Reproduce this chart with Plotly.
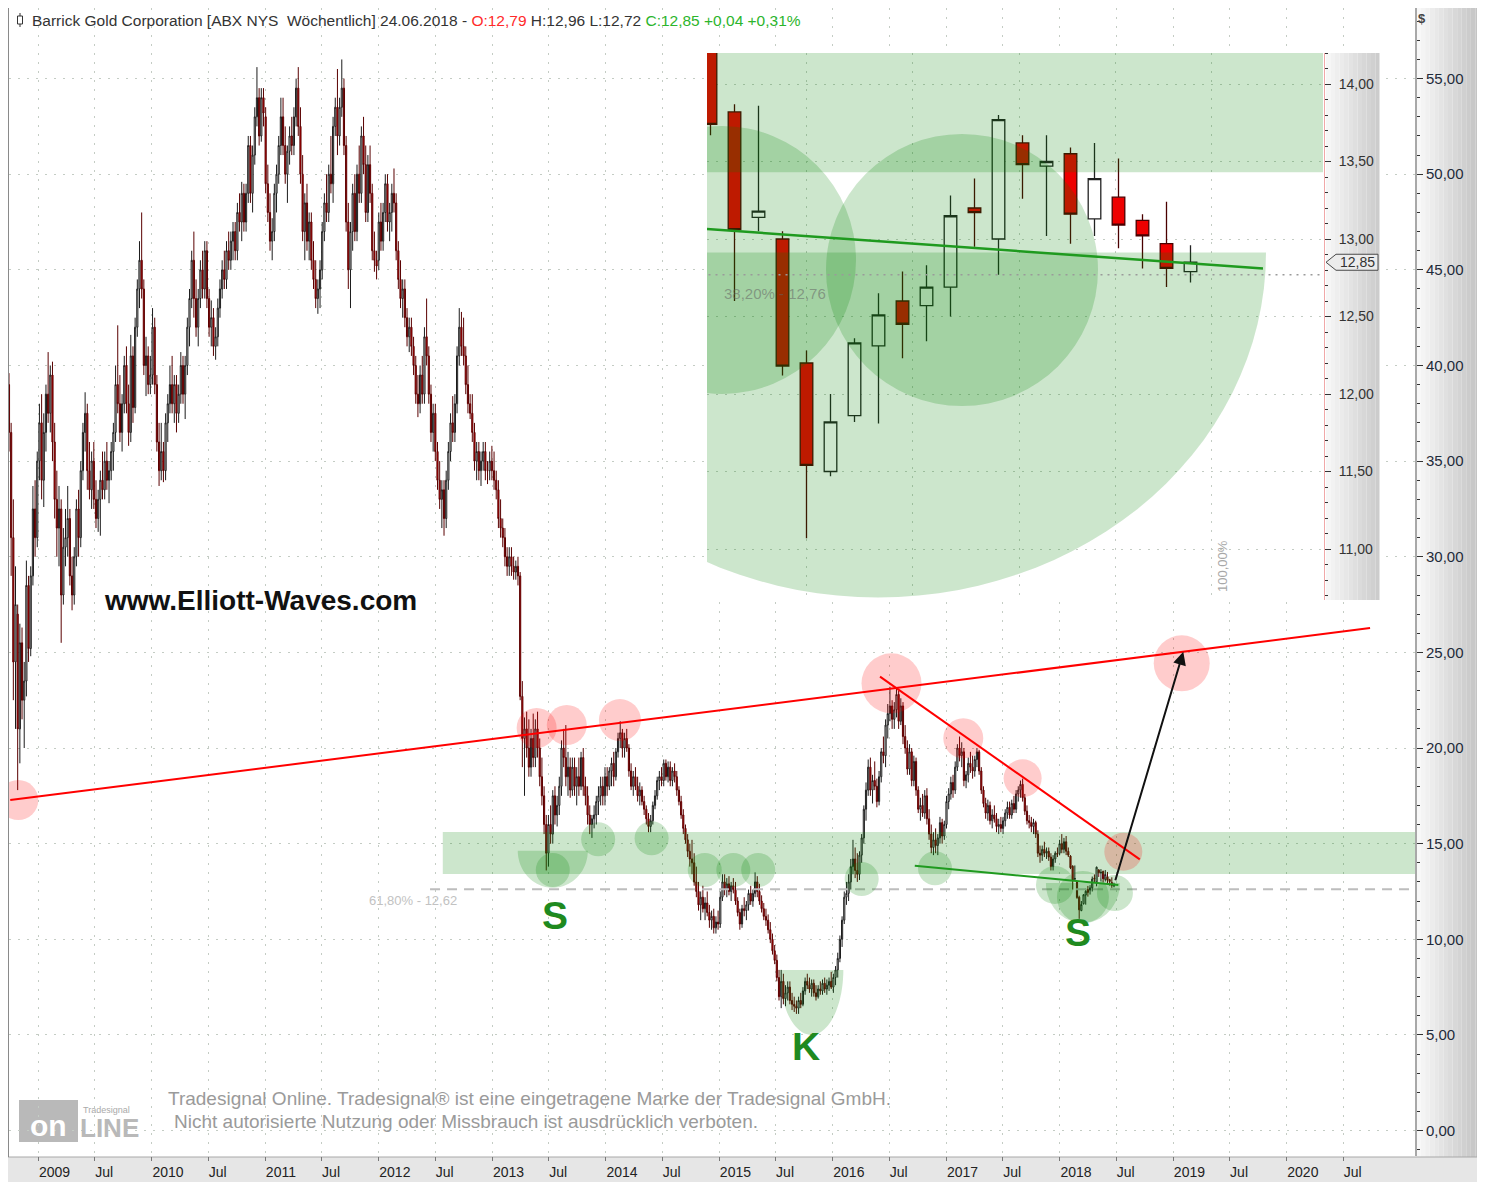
import numpy as np
import pandas as pd
import plotly.graph_objects as go

FONT = "Liberation Sans, Arial, sans-serif"
# the page puts the figure at (8, 8); all positions below are page pixels
OFF = 8
W, H = 1485 - OFF, 1182 - OFF
PL, PR, PT, PB = 9, 1415, 8, 1156          # plot area in page pixels
PW, PH = PR - PL, PB - PT


def px(x):
    return (x - PL) / PW


def py(y):
    return (PB - y) / PH


# ---------------- weekly OHLC (open, high, low, close) ----------------
START_WEEK = "2008-09-28"

w2008 = [
    (39.0, 39.6, 35.5, 36.5), (36.5, 37.0, 29.0, 31.0), (31.0, 33.0, 22.5, 24.5), (24.5, 29.5, 21.0, 27.5),
    (27.0, 27.5, 17.8, 21.0), (21.0, 26.5, 19.2, 25.5), (25.5, 26.3, 21.5, 22.5), (22.5, 24.5, 20.0, 23.5),
    (23.5, 29.8, 22.7, 28.5), (28.5, 29.0, 24.5, 25.2), (25.2, 29.5, 24.8, 29.0), (29.0, 33.7, 28.5, 32.5),
    (32.5, 34.0, 30.0, 31.0), (31.0, 35.5, 30.5, 35.0)]

w2009 = [
    (35.0, 38.0, 34.0, 37.0), (37.0, 38.5, 33.0, 34.0), (34.0, 37.5, 32.6, 36.5), (36.5, 39.0, 35.5, 38.5),
    (38.5, 40.7, 37.0, 37.5), (37.5, 40.0, 36.5, 39.5), (39.5, 40.2, 35.0, 36.0), (36.0, 37.0, 32.0, 33.0),
    (33.0, 34.5, 30.0, 31.5), (31.5, 33.7, 29.5, 32.5), (32.5, 33.0, 25.5, 28.0), (28.0, 31.5, 27.5, 30.5),
    (30.5, 32.5, 29.5, 31.0), (31.0, 33.7, 30.0, 32.0), (32.0, 32.5, 28.5, 29.0), (29.0, 30.0, 27.2, 28.0),
    (28.0, 30.5, 27.5, 30.0), (30.0, 33.0, 29.5, 32.5), (32.5, 33.5, 30.0, 31.0), (31.0, 35.0, 30.5, 34.5),
    (34.5, 37.0, 34.0, 36.5), (36.5, 38.6, 35.5, 37.5), (37.5, 38.0, 33.5, 34.5), (34.5, 36.0, 33.0, 33.5),
    (33.5, 35.5, 32.5, 35.0), (35.0, 36.0, 32.5, 33.0), (33.0, 34.0, 31.5, 32.0), (32.0, 33.5, 31.3, 33.0),
    (33.0, 34.5, 31.1, 34.0), (34.0, 35.5, 33.0, 33.5), (33.5, 35.5, 33.0, 35.0), (35.0, 36.0, 33.5, 34.0),
    (34.0, 35.0, 32.8, 34.5), (34.5, 36.0, 34.0, 35.5), (35.5, 37.0, 34.5, 36.5), (36.5, 40.0, 36.0, 39.0),
    (39.0, 42.1, 37.5, 38.0), (38.0, 39.5, 36.0, 36.5), (36.5, 38.5, 35.5, 38.0), (38.0, 40.5, 37.5, 40.0),
    (40.0, 41.0, 37.5, 38.0), (38.0, 39.0, 35.8, 36.5), (36.5, 41.6, 36.0, 40.5), (40.5, 41.0, 37.0, 37.8),
    (37.8, 42.5, 37.5, 42.0), (42.0, 44.5, 41.5, 44.0), (44.0, 46.5, 43.0, 45.5), (45.5, 48.0, 43.5, 44.0),
    (44.0, 44.5, 39.5, 40.0), (40.0, 41.5, 38.4, 40.5), (40.5, 41.0, 38.5, 39.0), (39.0, 40.5, 38.5, 39.5)]

w2010 = [
    (39.5, 43.0, 39.0, 42.0), (42.0, 42.5, 38.5, 39.0), (39.0, 39.5, 35.5, 36.0), (36.0, 37.0, 33.7, 34.5),
    (34.5, 37.0, 34.0, 35.5), (35.5, 36.0, 33.9, 34.5), (34.5, 37.5, 34.0, 37.0), (37.0, 38.5, 36.0, 38.0),
    (38.0, 40.0, 37.5, 39.0), (39.0, 40.5, 37.5, 38.0), (38.0, 39.5, 37.0, 39.0), (39.0, 39.5, 36.5, 37.5),
    (37.5, 39.0, 37.0, 38.5), (38.5, 40.7, 38.0, 40.0), (40.0, 40.5, 38.0, 38.5), (38.5, 40.5, 37.2, 40.0),
    (40.0, 42.5, 39.5, 42.0), (42.0, 44.0, 41.0, 43.5), (43.5, 46.0, 43.0, 45.5), (45.5, 47.0, 42.5, 43.5),
    (43.5, 44.5, 41.5, 42.0), (42.0, 44.0, 41.0, 43.5), (43.5, 45.5, 43.0, 45.0), (45.0, 46.0, 43.5, 44.0),
    (44.0, 46.5, 43.5, 46.0), (46.0, 46.5, 43.0, 43.5), (43.5, 44.0, 41.5, 42.0), (42.0, 43.4, 41.0, 42.5),
    (42.5, 43.0, 40.5, 41.0), (41.0, 42.0, 40.3, 41.5), (41.5, 43.5, 41.0, 43.0), (43.0, 44.5, 42.5, 44.0),
    (44.0, 45.5, 43.5, 45.0), (45.0, 46.0, 44.0, 44.5), (44.5, 46.5, 44.0, 46.0), (46.0, 47.0, 45.0, 45.5),
    (45.5, 47.0, 45.0, 46.5), (46.5, 47.5, 45.5, 47.0), (47.0, 47.5, 45.5, 46.0), (46.0, 48.5, 45.5, 48.0),
    (48.0, 49.0, 47.0, 47.5), (47.5, 49.6, 46.5, 49.0), (49.0, 49.5, 47.0, 47.5), (47.5, 49.5, 47.0, 49.0),
    (49.0, 52.0, 48.5, 51.5), (51.5, 52.0, 48.5, 49.0), (49.0, 51.5, 48.0, 51.0), (51.0, 53.5, 50.5, 53.0),
    (53.0, 55.6, 52.5, 54.0), (54.0, 54.5, 51.5, 52.0), (52.0, 54.5, 51.7, 54.0), (54.0, 54.5, 52.5, 53.2)]

w2011 = [
    (53.0, 53.5, 49.0, 49.5), (49.5, 50.5, 47.5, 48.0), (48.0, 49.0, 46.0, 46.5), (46.5, 47.7, 45.5, 47.0),
    (47.0, 49.5, 46.5, 49.0), (49.0, 50.5, 48.0, 50.0), (50.0, 52.0, 49.5, 51.5), (51.5, 54.0, 51.0, 53.0),
    (53.0, 54.0, 51.0, 51.5), (51.5, 52.5, 49.5, 50.0), (50.0, 51.5, 48.5, 51.2), (51.2, 52.5, 50.5, 52.0),
    (52.0, 53.0, 51.0, 51.5), (51.5, 53.5, 51.0, 53.0), (53.0, 55.0, 52.5, 54.5), (54.5, 55.6, 52.0, 52.5),
    (52.5, 53.5, 49.5, 50.0), (50.0, 51.0, 46.5, 47.0), (47.0, 49.0, 45.5, 48.5), (48.5, 49.5, 46.0, 46.5),
    (46.5, 48.0, 45.5, 47.5), (47.5, 48.0, 45.0, 45.5), (45.5, 46.5, 44.0, 44.5), (44.5, 45.5, 43.0, 43.5),
    (43.5, 44.5, 42.7, 44.0), (44.0, 45.5, 43.0, 45.0), (45.0, 47.5, 44.5, 47.0), (47.0, 49.0, 46.5, 48.5),
    (48.5, 50.0, 47.5, 48.0), (48.0, 50.5, 47.5, 50.0), (50.0, 52.0, 49.0, 49.5), (49.5, 53.0, 48.5, 52.5),
    (52.5, 54.0, 52.0, 53.5), (53.5, 55.5, 51.0, 52.0), (52.0, 54.0, 51.5, 53.5), (53.5, 56.0, 53.0, 54.5),
    (54.5, 55.0, 51.0, 51.5), (51.5, 52.0, 47.0, 47.5), (47.5, 48.5, 44.0, 45.0), (45.0, 47.5, 43.0, 47.0),
    (47.0, 49.5, 46.0, 49.0), (49.0, 50.0, 46.5, 47.0), (47.0, 50.5, 46.5, 50.0), (50.0, 51.5, 48.5, 49.0),
    (49.0, 52.5, 48.5, 52.0), (52.0, 53.0, 50.0, 50.5), (50.5, 51.5, 47.5, 48.0), (48.0, 51.0, 47.5, 50.5),
    (50.5, 51.5, 48.5, 49.0), (49.0, 49.5, 45.5, 46.0), (46.0, 47.0, 44.9, 45.5), (45.5, 46.0, 44.5, 45.2)]

w2012 = [
    (45.5, 48.0, 45.0, 47.5), (47.5, 48.5, 46.0, 46.5), (46.5, 48.5, 46.0, 48.0), (48.0, 50.0, 47.5, 49.5),
    (49.5, 50.0, 47.0, 47.5), (47.5, 48.5, 46.5, 48.0), (48.0, 49.5, 47.0, 49.0), (49.0, 50.3, 48.0, 48.5),
    (48.5, 49.0, 45.5, 46.0), (46.0, 46.5, 44.0, 44.5), (44.5, 45.5, 43.0, 43.5), (43.5, 44.5, 42.5, 44.0),
    (44.0, 44.5, 42.0, 42.5), (42.5, 43.0, 41.0, 41.5), (41.5, 42.5, 40.7, 42.0), (42.0, 42.5, 40.5, 41.0),
    (41.0, 41.5, 39.5, 40.0), (40.0, 40.5, 38.0, 38.5), (38.5, 39.5, 37.3, 38.0), (38.0, 40.0, 37.5, 39.5),
    (39.5, 40.5, 38.0, 38.5), (38.5, 42.0, 38.0, 41.5), (41.5, 43.5, 40.0, 40.5), (40.5, 41.0, 38.0, 38.5),
    (38.5, 39.0, 36.0, 36.5), (36.5, 38.0, 35.5, 37.5), (37.5, 38.0, 35.0, 35.5), (35.5, 36.0, 33.5, 34.0),
    (34.0, 35.0, 32.5, 33.0), (33.0, 34.0, 31.5, 33.5), (33.5, 34.0, 31.1, 32.0), (32.0, 34.5, 31.5, 34.0),
    (34.0, 36.0, 33.5, 35.5), (35.5, 37.5, 35.0, 37.0), (37.0, 38.4, 36.0, 36.5), (36.5, 38.5, 36.0, 38.0),
    (38.0, 41.0, 37.5, 40.5), (40.5, 43.0, 40.0, 42.0), (42.0, 42.8, 40.5, 41.0), (41.0, 42.5, 40.0, 40.5),
    (40.5, 41.0, 38.5, 39.0), (39.0, 40.0, 37.5, 38.0), (38.0, 38.5, 37.2, 37.5), (37.5, 38.5, 36.0, 36.5),
    (36.5, 37.0, 34.5, 35.0), (35.0, 36.0, 34.0, 35.5), (35.5, 36.0, 34.0, 34.5), (34.5, 35.5, 33.7, 35.0),
    (35.0, 36.0, 34.5, 35.5), (35.5, 36.0, 34.0, 34.5), (34.5, 35.0, 33.8, 34.5), (34.5, 35.5, 34.0, 35.0),
    (35.0, 35.8, 34.0, 34.5)]

w2013 = [
    (34.5, 35.5, 33.5, 34.0), (34.0, 34.5, 33.0, 33.5), (33.5, 34.0, 31.5, 32.0), (32.0, 33.0, 31.0, 31.5),
    (31.5, 32.0, 30.5, 31.0), (31.0, 31.5, 29.5, 30.0), (30.0, 30.5, 29.0, 29.5), (29.5, 30.5, 29.0, 30.0),
    (30.0, 30.5, 29.0, 29.5), (29.5, 30.0, 28.8, 29.2), (29.2, 29.8, 28.8, 29.5), (29.5, 30.0, 28.5, 29.0),
    (29.0, 29.2, 22.5, 22.7), (22.7, 23.5, 19.0, 20.5), (20.5, 21.6, 17.5, 21.0), (21.0, 21.9, 19.5, 20.0),
    (20.0, 21.5, 18.5, 19.0), (19.0, 21.0, 18.5, 20.5), (20.5, 21.8, 19.0, 19.5), (19.5, 21.5, 19.0, 21.0),
    (21.0, 21.9, 19.5, 20.0), (20.0, 20.5, 18.0, 18.5), (18.5, 19.5, 17.0, 17.5), (17.5, 18.0, 15.5, 16.0),
    (16.0, 16.5, 13.6, 14.5), (14.5, 16.5, 13.8, 16.0), (16.0, 17.0, 15.0, 15.5), (15.5, 17.8, 15.0, 17.5),
    (17.5, 18.0, 16.0, 16.5), (16.5, 17.5, 15.9, 17.0), (17.0, 18.5, 16.5, 18.0), (18.0, 20.4, 17.5, 20.0),
    (20.0, 21.0, 19.0, 19.5), (19.5, 21.2, 18.0, 18.5), (18.5, 19.8, 17.5, 19.0), (19.0, 19.5, 17.4, 17.8),
    (17.8, 19.5, 17.5, 19.0), (19.0, 19.5, 17.5, 18.0), (18.0, 19.0, 17.0, 18.5), (18.5, 19.5, 17.5, 18.0),
    (18.0, 19.8, 17.8, 19.5), (19.5, 20.0, 17.5, 18.0), (18.0, 18.5, 17.0, 17.5), (17.5, 18.0, 16.0, 16.5),
    (16.5, 17.0, 15.5, 16.0), (16.0, 16.5, 15.3, 16.3), (16.3, 17.0, 15.8, 16.5), (16.5, 17.5, 16.0, 17.2),
    (17.2, 18.0, 16.5, 17.5), (17.5, 18.5, 17.0, 18.0), (18.0, 18.5, 17.0, 17.5), (17.5, 19.0, 17.0, 18.5)]

w2014 = [
    (18.5, 19.0, 17.5, 18.0), (18.0, 19.0, 17.8, 18.8), (18.8, 19.5, 18.0, 19.2), (19.2, 19.8, 18.0, 18.5),
    (18.5, 20.0, 18.3, 19.8), (19.8, 20.8, 19.5, 20.5), (20.5, 21.4, 20.0, 20.8), (20.8, 21.0, 19.5, 20.0),
    (20.0, 20.8, 19.5, 20.5), (20.5, 21.0, 19.8, 20.0), (20.0, 20.2, 18.5, 18.8), (18.8, 19.2, 17.8, 18.0),
    (18.0, 18.8, 17.5, 18.5), (18.5, 19.0, 17.8, 18.0), (18.0, 18.5, 17.2, 17.5), (17.5, 18.2, 17.0, 17.8),
    (17.8, 18.0, 17.0, 17.2), (17.2, 17.5, 16.5, 16.8), (16.8, 17.0, 16.0, 16.3), (16.3, 16.6, 15.6, 15.9),
    (15.9, 16.5, 15.6, 16.2), (16.2, 17.2, 16.0, 17.0), (17.0, 17.8, 16.8, 17.5), (17.5, 18.5, 17.3, 18.3),
    (18.3, 18.8, 17.8, 18.5), (18.5, 19.0, 18.0, 18.3), (18.3, 19.4, 18.0, 19.2), (19.2, 19.4, 18.3, 18.5),
    (18.5, 19.3, 18.2, 19.0), (19.0, 19.3, 18.0, 18.3), (18.3, 19.0, 18.0, 18.8), (18.8, 19.2, 18.2, 18.5),
    (18.5, 18.8, 17.5, 17.8), (17.8, 18.0, 17.0, 17.2), (17.2, 17.5, 16.3, 16.5), (16.5, 16.8, 15.5, 15.8),
    (15.8, 16.0, 15.0, 15.2), (15.2, 15.5, 14.3, 14.6), (14.6, 15.0, 13.8, 14.2), (14.2, 15.2, 13.4, 14.0),
    (14.0, 14.5, 12.8, 13.0), (13.0, 13.8, 12.2, 12.5), (12.5, 13.0, 11.5, 11.8), (11.8, 12.5, 11.0, 12.2),
    (12.2, 12.8, 11.4, 11.6), (11.6, 12.2, 11.0, 11.9), (11.9, 12.5, 11.2, 11.4), (11.4, 11.8, 10.6, 11.0),
    (11.0, 11.5, 10.5, 11.2), (11.2, 11.6, 10.3, 10.6), (10.6, 11.2, 10.3, 10.9), (10.9, 11.5, 10.5, 10.8)]

w2015 = [
    (10.8, 12.5, 10.6, 12.2), (12.2, 13.4, 12.0, 13.0), (13.0, 13.4, 12.3, 12.6), (12.6, 13.2, 12.2, 12.9),
    (12.9, 13.3, 12.3, 12.5), (12.5, 13.0, 12.0, 12.8), (12.8, 13.2, 12.4, 12.6), (12.6, 13.0, 11.8, 12.0),
    (12.0, 12.2, 11.2, 11.4), (11.4, 11.6, 10.5, 10.8), (10.8, 11.8, 10.6, 11.6), (11.6, 12.2, 11.2, 11.5),
    (11.5, 12.0, 11.0, 11.8), (11.8, 12.6, 11.5, 12.4), (12.4, 12.8, 11.8, 12.0), (12.0, 12.6, 11.7, 12.4),
    (12.4, 13.5, 12.2, 13.0), (13.0, 13.3, 12.2, 12.5), (12.5, 12.9, 11.8, 12.0), (12.0, 12.3, 11.4, 11.6),
    (11.6, 11.9, 11.0, 11.2), (11.2, 11.6, 10.7, 11.0), (11.0, 11.3, 10.3, 10.5), (10.5, 10.9, 9.8, 10.0),
    (10.0, 10.3, 9.2, 9.4), (9.4, 9.7, 8.7, 8.9), (8.9, 9.2, 7.8, 8.0), (8.0, 8.4, 6.8, 7.0),
    (7.0, 8.4, 6.4, 7.8), (7.8, 8.2, 6.6, 6.9), (6.9, 7.6, 6.5, 7.2), (7.2, 7.8, 6.8, 7.5),
    (7.5, 7.8, 6.6, 6.8), (6.8, 7.2, 6.3, 6.6), (6.6, 7.0, 6.2, 6.5), (6.5, 6.8, 6.1, 6.4),
    (6.4, 7.0, 6.1, 6.8), (6.8, 7.2, 6.4, 6.6), (6.6, 7.5, 6.5, 7.3), (7.3, 8.0, 7.1, 7.8),
    (7.8, 8.2, 7.4, 7.6), (7.6, 8.0, 7.2, 7.4), (7.4, 7.9, 7.0, 7.7), (7.7, 7.9, 7.0, 7.2),
    (7.2, 7.6, 6.8, 7.0), (7.0, 7.6, 6.9, 7.4), (7.4, 7.8, 7.1, 7.3), (7.3, 7.9, 7.1, 7.7),
    (7.7, 8.0, 7.2, 7.4), (7.4, 7.9, 7.1, 7.6), (7.6, 8.0, 7.3, 7.8), (7.8, 8.3, 7.4, 7.5)]

w2016 = [
    (7.5, 8.2, 7.2, 8.0), (8.0, 8.6, 7.6, 8.4), (8.4, 9.3, 8.0, 9.0), (9.0, 10.2, 8.8, 10.0),
    (10.0, 11.2, 9.6, 11.0), (11.0, 12.5, 10.8, 12.2), (12.2, 13.0, 11.8, 12.4), (12.4, 13.4, 12.0, 13.0),
    (13.0, 14.2, 12.6, 13.8), (13.8, 15.2, 13.4, 14.2), (14.2, 14.8, 13.2, 13.6), (13.6, 14.5, 13.0, 13.4),
    (13.4, 14.6, 13.1, 14.4), (14.4, 15.5, 14.0, 15.3), (15.3, 17.0, 15.0, 16.8), (16.8, 18.2, 16.2, 17.8),
    (17.8, 19.4, 17.5, 19.0), (19.0, 19.5, 17.5, 17.8), (17.8, 18.6, 17.1, 18.3), (18.3, 19.3, 17.8, 18.0),
    (18.0, 18.4, 16.9, 17.2), (17.2, 18.8, 17.0, 18.5), (18.5, 20.0, 18.2, 19.8), (19.8, 20.6, 19.2, 19.6),
    (19.6, 21.5, 19.0, 21.2), (21.2, 22.3, 20.5, 21.8), (21.8, 23.2, 21.4, 22.2), (22.2, 22.5, 21.0, 21.5),
    (21.5, 22.4, 21.0, 22.0), (22.0, 23.1, 21.6, 22.8), (22.8, 23.0, 21.0, 21.4), (21.4, 22.6, 21.2, 22.2),
    (22.2, 22.4, 20.2, 20.6), (20.6, 21.2, 19.7, 20.0), (20.0, 20.4, 18.6, 18.9), (18.9, 20.2, 18.6, 19.8),
    (19.8, 20.0, 18.0, 18.3), (18.3, 19.6, 18.0, 19.3), (19.3, 19.5, 17.5, 17.8), (17.8, 18.0, 16.6, 16.8),
    (16.8, 17.4, 16.2, 17.0), (17.0, 17.6, 16.4, 16.6), (16.6, 17.8, 16.3, 17.5), (17.5, 17.9, 16.0, 16.3),
    (16.3, 16.8, 15.2, 15.5), (15.5, 16.0, 14.5, 14.8), (14.8, 15.6, 14.4, 15.2), (15.2, 15.8, 14.5, 14.9),
    (14.9, 15.5, 14.4, 15.3), (15.3, 16.4, 15.0, 16.1), (16.1, 16.3, 15.0, 15.4), (15.4, 16.2, 15.2, 16.0)]

w2017 = [
    (16.0, 17.5, 15.8, 17.2), (17.2, 17.9, 16.8, 17.6), (17.6, 18.5, 17.3, 18.2), (18.2, 18.6, 17.4, 17.8),
    (17.8, 19.3, 17.6, 19.0), (19.0, 20.2, 18.8, 20.0), (20.0, 20.6, 19.3, 19.6), (19.6, 20.3, 19.0, 19.8),
    (19.8, 20.0, 18.0, 18.3), (18.3, 18.8, 17.9, 18.6), (18.6, 19.5, 18.2, 19.2), (19.2, 19.8, 18.7, 19.0),
    (19.0, 19.6, 18.4, 18.8), (18.8, 19.6, 18.5, 19.4), (19.4, 20.0, 19.0, 19.8), (19.8, 19.9, 18.6, 18.8),
    (18.8, 19.0, 17.6, 17.8), (17.8, 18.0, 16.9, 17.1), (17.1, 17.4, 16.3, 16.6), (16.6, 17.3, 16.2, 17.0),
    (17.0, 17.2, 16.0, 16.2), (16.2, 16.8, 15.8, 16.5), (16.5, 17.0, 16.1, 16.3), (16.3, 16.6, 15.6, 15.9),
    (15.9, 16.3, 15.5, 16.0), (16.0, 16.4, 15.6, 15.8), (15.8, 16.4, 15.5, 16.2), (16.2, 16.8, 15.9, 16.6),
    (16.6, 17.2, 16.3, 16.9), (16.9, 17.2, 16.3, 16.5), (16.5, 17.3, 16.3, 17.1), (17.1, 17.5, 16.6, 16.8),
    (16.8, 17.8, 16.6, 17.6), (17.6, 18.0, 17.2, 17.8), (17.8, 18.3, 17.4, 18.1), (18.1, 18.4, 17.2, 17.4),
    (17.4, 17.6, 16.5, 16.7), (16.7, 17.0, 16.0, 16.2), (16.2, 16.5, 15.8, 16.1), (16.1, 16.4, 15.6, 15.9),
    (15.9, 16.3, 15.5, 16.1), (16.1, 16.2, 15.3, 15.5), (15.5, 15.7, 14.3, 14.5), (14.5, 14.9, 14.0, 14.4),
    (14.4, 14.9, 14.1, 14.7), (14.7, 15.1, 14.3, 14.5), (14.5, 14.8, 14.2, 14.6), (14.6, 14.8, 14.1, 14.3),
    (14.3, 14.5, 13.6, 13.8), (13.8, 14.4, 13.6, 14.2), (14.2, 14.6, 14.0, 14.5), (14.5, 14.8, 14.3, 14.45),
    (14.5, 15.2, 14.4, 15.0)]

w2018_jan = [
    (15.0, 15.5, 14.5, 14.7), (14.7, 15.3, 14.5, 15.1), (15.1, 15.4, 14.4, 14.6), (14.6, 14.8, 14.3, 14.4)]

# last 21 weeks (also shown enlarged in the inset), 04.02.2018 - 24.06.2018
ins_open = [14.35, 13.82, 13.14, 13.00, 12.20, 11.50, 11.86, 12.31, 12.60, 12.57, 12.69,
            13.20, 13.00, 13.62, 13.47, 13.55, 13.13, 13.27, 13.12, 12.97, 12.79]
ins_high = [14.40, 13.87, 13.86, 13.05, 12.28, 12.00, 12.36, 12.65, 12.79, 12.83, 13.28,
            13.39, 13.80, 13.67, 13.67, 13.59, 13.62, 13.52, 13.16, 13.24, 12.96]
ins_low = [13.67, 12.60, 13.05, 12.12, 11.07, 11.47, 11.82, 11.81, 12.23, 12.34, 12.50,
           12.95, 12.77, 13.26, 13.02, 12.97, 13.02, 12.94, 12.81, 12.69, 12.72]
ins_close = [13.74, 13.06, 13.18, 12.18, 11.54, 11.82, 12.33, 12.51, 12.45, 12.69, 13.15,
             13.17, 13.77, 13.48, 13.50, 13.16, 13.39, 13.09, 13.02, 12.81, 12.85]

# axis labels
years = list(range(2009, 2021))
inset_grid_dates = ["2018-03-04", "2018-04-04", "2018-05-05", "2018-06-02", "2018-06-30"]

# ---------------- assemble series ----------------
hist = w2008 + w2009 + w2010 + w2011 + w2012 + w2013 + w2014 + w2015 + w2016 + w2017 + w2018_jan
m_open = [w[0] for w in hist] + ins_open
m_high = [w[1] for w in hist] + ins_high
m_low = [w[2] for w in hist] + ins_low
m_close = [w[3] for w in hist] + ins_close
dates = pd.date_range(START_WEEK, periods=len(m_open), freq="7D")
ins_dates = dates[-len(ins_open):]
ins_t0 = ins_dates[0]


def idx_date(k):
    return ins_t0 + pd.Timedelta(days=7 * k)


def ipx(xpix):
    # inset pixel column -> inset date (24 px per weekly bar)
    return idx_date((xpix - 710.5) / 24.0)


x_tickvals, x_ticktext = [], []
for yr in years:
    x_tickvals += [f"{yr}-01-01", f"{yr}-07-01"]
    x_ticktext += [str(yr), "Jul"]

fig = go.Figure()
fig.add_trace(go.Candlestick(
    x=dates, open=m_open, high=m_high, low=m_low, close=m_close,
    xaxis="x", yaxis="y", whiskerwidth=0, hoverinfo="skip", showlegend=False,
    increasing=dict(line=dict(color="#1c1c1c", width=1), fillcolor="#ffffff"),
    decreasing=dict(line=dict(color="#5a0000", width=1), fillcolor="#e00000")))
fig.add_trace(go.Candlestick(
    x=ins_dates, open=ins_open, high=ins_high, low=ins_low, close=ins_close,
    xaxis="x2", yaxis="y2", whiskerwidth=0, hoverinfo="skip", showlegend=False,
    increasing=dict(line=dict(color="#222222", width=1.3), fillcolor="#ffffff"),
    decreasing=dict(line=dict(color="#4a0000", width=1.3), fillcolor="#ee0000")))

GREEN = "rgba(0,128,0,0.2)"
RED = "rgba(255,0,0,0.2)"
GRID = "#c4ccc4"

shapes = []


def circ(xref, yref, xa, ya, r, color):
    return dict(type="circle", xref=xref, yref=yref, xsizemode="pixel", ysizemode="pixel",
                xanchor=xa, yanchor=ya, x0=-r, x1=r, y0=-r, y1=r,
                fillcolor=color, line=dict(width=0), layer="above")


def bowl(xref, yref, xa, ya, rx, ry, color):
    t = np.linspace(np.pi, 2 * np.pi, 61)
    pts = [f"{rx * np.cos(a):.1f},{ry * np.sin(a):.1f}" for a in t]
    return dict(type="path", xref=xref, yref=yref, xsizemode="pixel", ysizemode="pixel",
                xanchor=xa, yanchor=ya, path="M" + " L".join(pts) + " Z",
                fillcolor=color, line=dict(width=0), layer="above")


def line(xref, yref, x0, y0, x1, y1, color, width, dash="solid", layer="above"):
    return dict(type="line", xref=xref, yref=yref, x0=x0, y0=y0, x1=x1, y1=y1,
                line=dict(color=color, width=width, dash=dash), layer=layer)


def grad_rects(xref, yref, xs, y0, y1, c0, c1, layer):
    out = []
    n = len(xs) - 1
    for k in range(n):
        f = k / max(n - 1, 1)
        c = tuple(int(round(c0[j] + (c1[j] - c0[j]) * f)) for j in range(3))
        out.append(dict(type="rect", xref=xref, yref=yref, x0=xs[k], x1=xs[k + 1], y0=y0, y1=y1,
                        fillcolor="rgb(%d,%d,%d)" % c, line=dict(width=0), layer=layer))
    return out


# --- frame / axis strips (paper) ---
xs = [px(1416 + (1480 - 1416) * k / 14) for k in range(15)]
shapes += grad_rects("paper", "paper", xs, py(1157), py(7), (248, 248, 248), (196, 196, 196), "below")
shapes += grad_rects("paper", "paper", [px(8), px(1480)], py(1182), py(1157), (230, 230, 230), (230, 230, 230), "below")
shapes.append(line("paper", "paper", px(8), py(1157), px(1480), py(1157), "#a8a8a8", 1, layer="below"))
shapes.append(line("paper", "paper", px(8), py(7.5), px(1480), py(7.5), "#8a8a8a", 1, layer="below"))
shapes.append(line("paper", "paper", px(8.5), py(7), px(8.5), py(1157), "#8a8a8a", 1, layer="below"))
shapes.append(line("paper", "paper", px(1480), py(7), px(1480), py(1182), "#9a9a9a", 1, layer="below"))

# --- main chart drawings ---
shapes.append(dict(type="rect", xref="x", yref="y", x0="2012-07-25", x1="2021-03-01", y0=13.41, y1=15.61,
                   fillcolor=GREEN, line=dict(width=0), layer="above"))
shapes.append(line("x", "y", "2012-06-14", 12.62, "2021-03-01", 12.62, "#bdbdbd", 2, dash="10px,7px"))

green_circles = [("2013-07-14", 13.62, 17), ("2013-12-07", 15.23, 17), ("2014-05-28", 15.28, 17),
                 ("2014-11-15", 13.62, 17), ("2015-02-15", 13.62, 17), ("2015-05-06", 13.62, 17),
                 ("2016-04-03", 13.15, 17), ("2016-11-25", 13.71, 17), ("2017-12-16", 12.84, 19),
                 ("2018-03-16", 12.21, 26), ("2018-06-27", 12.42, 18)]
for d, p, r in green_circles:
    shapes.append(circ("x", "y", d, p, r, GREEN))
for d, p, rx, ry in [("2013-07-14", 14.63, 35, 37), ("2015-10-24", 8.40, 32, 65), ("2018-03-16", 12.94, 37, 40)]:
    shapes.append(bowl("x", "y", d, p, rx, ry, GREEN))

red_circles = [("2008-10-28", 17.28, 20), ("2013-05-23", 21.05, 20), ("2013-08-28", 21.20, 20),
               ("2014-02-15", 21.46, 21), ("2016-07-08", 23.38, 30), ("2017-02-24", 20.51, 20),
               ("2017-09-03", 18.42, 19), ("2018-07-24", 14.58, 19), ("2019-01-28", 24.43, 28)]
for d, p, r in red_circles:
    shapes.append(circ("x", "y", d, p, r, RED))

shapes.append(line("x", "y", "2008-10-02", 17.28, "2020-09-25", 26.27, "#ff0000", 2))
shapes.append(line("x", "y", "2016-06-01", 23.73, "2018-09-15", 14.18, "#ff0000", 2))
shapes.append(line("x", "y", "2016-09-21", 13.85, "2018-07-08", 12.84, "#1f9a1f", 2))

# --- inset background and drawings ---
shapes.append(dict(type="rect", xref="x2", yref="y2", x0=idx_date(-3), x1=idx_date(32), y0=9, y1=15,
                   fillcolor="white", line=dict(width=0), layer="below"))
ixs = [ipx(1326 + (1380 - 1326) * k / 12) for k in range(13)]
shapes += grad_rects("x2", "y2", ixs, 9, 15, (246, 246, 246), (204, 204, 204), "between")
shapes.append(dict(type="rect", xref="x2", yref="y2", x0=idx_date(-3), x1=ipx(1323), y0=13.43, y1=15,
                   fillcolor=GREEN, line=dict(width=0), layer="above"))
shapes.append(bowl("x2", "y2", ipx(878), 12.913, 388, 345, GREEN))
shapes.append(circ("x2", "y2", ipx(722), 12.865, 134, GREEN))
shapes.append(circ("x2", "y2", ipx(962), 12.80, 136, GREEN))
shapes.append(line("x2", "y2", idx_date(-3), 12.77, ipx(1323), 12.77, "#9a9a9a", 1.5, dash="2px,5px"))
shapes.append(line("x2", "y2", ipx(707), 13.064, ipx(1263), 12.81, "#1f9a1f", 2.5))

# last price marker on inset axis
shapes.append(dict(type="path", xref="paper", yref="y2", xsizemode="pixel", ysizemode="pixel",
                   xanchor=px(1326), yanchor=12.85, path="M0,0 L10,8 L52,8 L52,-8 L10,-8 Z",
                   fillcolor="#ececec", line=dict(color="#4a4a4a", width=1), layer="above"))

# title icon
shapes.append(line("paper", "paper", px(20), py(13), px(20), py(27), "#333", 1))
shapes.append(dict(type="rect", xref="paper", yref="paper", x0=px(17.5), x1=px(22.5), y0=py(24), y1=py(16),
                   fillcolor="white", line=dict(color="#333", width=1), layer="above"))

# logo block
shapes.append(dict(type="rect", xref="paper", yref="paper", x0=px(19), x1=px(78), y0=py(1142), y1=py(1100),
                   fillcolor="#b9b9b9", line=dict(width=0), layer="below"))

annotations = []


def ann(text, x, y, xref="paper", yref="paper", size=14, color="#333", xanchor="left",
        yanchor="middle", family=FONT, angle=0, **kw):
    d = dict(text=text, x=x, y=y, xref=xref, yref=yref, showarrow=False, xanchor=xanchor,
             yanchor=yanchor, textangle=angle, font=dict(family=family, size=size, color=color))
    d.update(kw)
    return d


title = ("Barrick Gold Corporation [ABX NYS\u00a0\u00a0Wöchentlich] 24.06.2018 - "
         "<span style='color:#ff2a2a'>O:12,79</span> H:12,96 L:12,72 "
         "<span style='color:#2cb52c'>C:12,85 +0,04 +0,31%</span>")
annotations.append(ann(title, px(30), py(20), size=15.5, color="#333"))
annotations.append(ann("<b>$</b>", px(1422), py(18), size=13, color="#444", xanchor="center"))
annotations.append(ann("<b>www.Elliott-Waves.com</b>", px(260), py(601), size=28, color="#111",
                       xanchor="center"))
annotations.append(ann("61,80% - 12,62", "2011-11-24", 12.05, xref="x", yref="y", size=13, color="#c2c2c2"))
annotations.append(ann("38,20% - 12,76", ipx(722), 12.65, xref="x2", yref="y2", size=15,
                       color="rgba(100,100,100,0.55)"))
annotations.append(ann("100,00%", ipx(1222), 10.89, xref="x2", yref="y2", size=13, color="#a8a8a8",
                       xanchor="center", angle=-90))
annotations.append(ann("12,85", px(1357), 12.85, xref="paper", yref="y2", size=14, color="#333",
                       xanchor="center"))
for txt, d, p in [("S", "2013-07-21", 11.27), ("K", "2015-10-07", 4.37), ("S", "2018-02-28", 10.33)]:
    annotations.append(ann(f"<b>{txt}</b>", d, p, xref="x", yref="y", size=39, color="#1f8a1f",
                           xanchor="center"))
annotations.append(dict(x="2019-02-02", y=25.03, ax="2018-06-27", ay=13.01, xref="x", yref="y",
                        axref="x", ayref="y", showarrow=True, arrowhead=2, arrowsize=1.3,
                        arrowwidth=2, arrowcolor="#111", text=""))
annotations.append(ann("Tradesignal Online. Tradesignal® ist eine eingetragene Marke der Tradesignal GmbH.",
                       px(166), py(1098), size=19, color="#9a9a9a"))
annotations.append(ann("Nicht autorisierte Nutzung oder Missbrauch ist ausdrücklich verboten.",
                       px(172), py(1121), size=19, color="#9a9a9a"))
annotations.append(ann("<b>on</b>", px(48), py(1125), size=30, color="#ffffff", xanchor="center"))
annotations.append(ann("<b>LINE</b>", px(78), py(1128), size=26, color="#b9b9b9"))
annotations.append(ann("Tradesignal", px(81), py(1110), size=9, color="#aaaaaa"))

x_left = pd.Timestamp("2009-01-01") + pd.Timedelta(days=(PL - 38.5) * 365.25 / 113.5)
x_right = pd.Timestamp("2009-01-01") + pd.Timedelta(days=(PR - 38.5) * 365.25 / 113.5)

fig.update_layout(
    width=W, height=H,
    margin=dict(l=PL - OFF, r=(W + OFF) - PR, t=PT - OFF, b=(H + OFF) - PB),
    paper_bgcolor="white", plot_bgcolor="white", showlegend=False,
    separators=",.", boxgap=0.25,
    font=dict(family=FONT),
    xaxis=dict(type="date", range=[x_left, x_right], domain=[0, 1], anchor="y",
               tickvals=x_tickvals, ticktext=x_ticktext, ticks="outside", ticklen=4,
               tickcolor="#777", ticklabelposition="outside right", ticklabelstandoff=3,
               tickfont=dict(family=FONT, size=14, color="#222"),
               showgrid=True, gridcolor=GRID, griddash="2px,7px", gridwidth=1,
               zeroline=False, showline=False, rangeslider=dict(visible=False), fixedrange=True),
    yaxis=dict(side="right", range=[-1.33, 58.69], anchor="x", domain=[0, 1],
               tick0=0, dtick=5, tickformat=".2f", ticks="outside", ticklen=6, tickcolor="#333",
               tickfont=dict(family=FONT, size=15, color="#1e2a3a"),
               minor=dict(ticks="outside", dtick=1, tick0=0, ticklen=3, tickcolor="#333", showgrid=False),
               showline=True, linecolor="#a8a8a8", linewidth=2,
               showgrid=True, gridcolor=GRID, griddash="2px,7px", gridwidth=1, zeroline=False),
    xaxis2=dict(type="date", domain=[px(707), px(1379.5)], anchor="y2",
                range=[idx_date(-0.146), idx_date(27.875)],
                tickvals=inset_grid_dates, showticklabels=False, ticks="",
                showgrid=True, gridcolor=GRID, griddash="2px,7px", zeroline=False, showline=False,
                rangeslider=dict(visible=False)),
    yaxis2=dict(domain=[py(600), py(53)], anchor="free", position=px(1324), side="right",
                range=[10.671, 14.2], tick0=11, dtick=0.5, tickformat=".2f",
                ticks="outside", ticklen=6, tickcolor="#333", ticklabelstandoff=5,
                tickfont=dict(family=FONT, size=14, color="#333"),
                minor=dict(ticks="outside", dtick=0.1, tick0=11, ticklen=3, tickcolor="#333", showgrid=False),
                showline=True, linecolor="#f0a8a8", linewidth=1,
                showgrid=True, gridcolor=GRID, griddash="2px,7px", zeroline=False),
    shapes=shapes, annotations=annotations,
)

fig.write_html("out.html")
